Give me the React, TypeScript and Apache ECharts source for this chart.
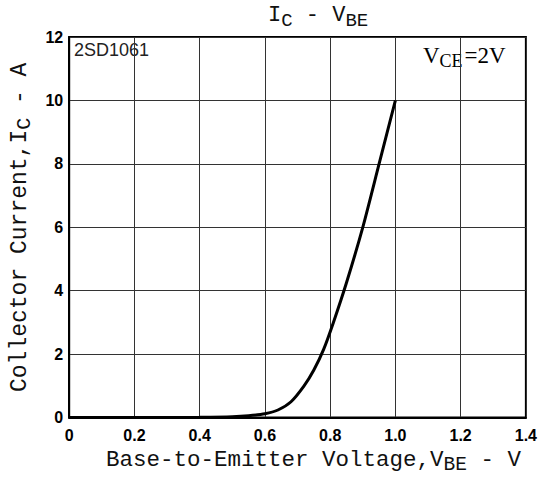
import React, { useEffect, useRef } from "react";
import * as echarts from "echarts";

// Base-to-emitter voltage (V) and collector current (A)
const vbe = [0, 0.1, 0.2, 0.3, 0.4, 0.5, 0.55, 0.6, 0.64, 0.68, 0.72, 0.75, 0.78, 0.81, 0.85, 0.9, 0.95, 1.0];
const ic = [0, 0, 0, 0, 0.01, 0.03, 0.06, 0.12, 0.24, 0.5, 1.0, 1.5, 2.15, 3.0, 4.25, 6.0, 8.0, 10.0];

const xMin = 0;
const xMax = 1.4;
const xStep = 0.2;
const yMin = 0;
const yMax = 12;
const yStep = 2;

const partName = "2SD1061";
const conditionMain = "V";
const conditionSub = "CE";
const conditionRest = "=2V";

const MONO = "'Liberation Mono', 'Courier New', monospace";
const SERIF = "'Liberation Serif', 'Times New Roman', serif";
const LABEL = "'Liberation Sans', Arial, sans-serif";

export default function App() {
  const ref = useRef<HTMLDivElement>(null);

  useEffect(() => {
    const chart = echarts.init(ref.current!, null, { renderer: "svg" });
    const monoRich = (size: number, sub: number) => ({
      n: { fontFamily: MONO, fontSize: size, fontWeight: "normal", color: "#111" },
      s: { fontFamily: MONO, fontSize: sub, fontWeight: "normal", color: "#111", padding: [10, 0, 0, 0] },
    });
    chart.setOption({
      animation: false,
      backgroundColor: "#fff",
      title: {
        text: "{n|I}{s|C}{n| - V}{s|BE}",
        left: 268,
        top: 1,
        padding: 0,
        textStyle: { fontWeight: "normal", rich: monoRich(22, 19) },
      },
      grid: {
        left: 56,
        right: 14,
        top: 37,
        bottom: 57,
        show: true,
        borderColor: "#000",
        borderWidth: 2,
        containLabel: false,
      },
      xAxis: {
        type: "value",
        min: xMin,
        max: xMax,
        interval: xStep,
        name: "{n|Base-to-Emitter Voltage,V}{s|BE}{n| - V}",
        nameLocation: "middle",
        nameGap: 26,
        nameTextStyle: { rich: monoRich(22.5, 19.5), padding: [0, 0, 0, 32] },
        axisLine: { show: true, lineStyle: { color: "#000", width: 2 } },
        axisTick: { show: false },
        axisLabel: {
          margin: 10,
          fontFamily: LABEL,
          fontWeight: "bold",
          fontSize: 16,
          color: "#000",
          formatter: (v: number) => (v === 0 ? "0" : v.toFixed(1)),
        },
        splitLine: { show: true, lineStyle: { color: "#333", width: 1 } },
      },
      yAxis: {
        type: "value",
        min: yMin,
        max: yMax,
        interval: yStep,
        name: "{n|Collector Current,I}{s|C}{n| - A}",
        nameLocation: "middle",
        nameGap: 28,
        nameTextStyle: { rich: monoRich(23, 20) },
        axisLine: { show: true, lineStyle: { color: "#000", width: 2 } },
        axisTick: { show: false },
        axisLabel: {
          margin: 6,
          fontFamily: LABEL,
          fontWeight: "bold",
          fontSize: 16,
          color: "#000",
        },
        splitLine: { show: true, lineStyle: { color: "#333", width: 1 } },
      },
      graphic: [
        {
          type: "text",
          left: 74,
          top: 41,
          style: {
            text: partName,
            font: `18px 'Liberation Sans', Arial, sans-serif`,
            fill: "#222",
          },
        },
        {
          type: "text",
          left: 423,
          top: 44,
          style: {
            text: `{v|${conditionMain}}{s|${conditionSub}}{v|${conditionRest}}`,
            rich: {
              v: { fontFamily: SERIF, fontSize: 23, color: "#222" },
              s: { fontFamily: SERIF, fontSize: 18, color: "#222", padding: [10, 2, 0, 0] },
            },
          },
        },
      ],
      series: [
        {
          type: "line",
          data: vbe.map((x, i) => [x, ic[i]]),
          smooth: 0.25,
          showSymbol: false,
          symbol: "none",
          lineStyle: { color: "#000", width: 3 },
          z: 5,
        },
      ],
    });
    return () => chart.dispose();
  }, []);

  return (
    <div
      ref={ref}
      style={{ position: "absolute", left: 0, top: 0, width: 540, height: 480 }}
    />
  );
}
